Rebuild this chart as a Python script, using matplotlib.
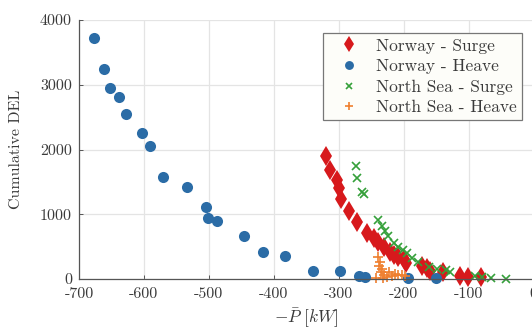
import matplotlib
matplotlib.use("Agg")
import matplotlib.pyplot as plt

# ---- data ----
norway_surge_x = [-319, -313.6, -302, -300, -296, -284, -271.8, -256.3, -245.5, -239, -230,
                  -221.7, -214.4, -208, -199, -197, -171, -164.5, -159, -140, -113, -101, -80.5]
norway_surge_y = [1898, 1682, 1528, 1400, 1230, 1049, 884, 715, 633, 576, 489,
                  422, 370, 335, 304, 252, 200, 165, 128, 108, 46, 35, 26]

norway_heave_x = [-677, -661.5, -653, -639, -628, -603.6, -591, -570.6, -533, -505, -501, -487,
                  -445.5, -417, -383, -339.5, -297.7, -268, -260, -193, -150.5]
norway_heave_y = [3715, 3236, 2952, 2813, 2551, 2258, 2048, 1579, 1415, 1106, 941, 890,
                  663, 417, 360, 123, 123, 51, 31, 11, 11]

northsea_surge_x = [-273, -272.4, -263.6, -261, -240, -233, -228, -224, -215, -208, -200.5,
                    -195, -186.5, -178, -161.7, -148.8, -134.9, -128, -89.5, -79, -64.7, -43]
northsea_surge_y = [1744, 1554, 1347, 1312, 910, 818, 746, 663, 551, 489, 447,
                    396, 319, 267, 190, 149, 139, 103, 46, 26, 11, 5]

northsea_heave_x = [-239, -236, -237.6, -233, -234.6, -230, -231.5, -222, -217.5, -213, -208,
                    -202, -197.5, -225, -242]
northsea_heave_y = [340, 262, 200, 154, 108, 62, 15, 108, 46, 77, 62,
                    62, 46, 30, 15]

xticks = [-700, -600, -500, -400, -300, -200, -100, 0]
xtick_labels = ["-700", "-600", "-500", "-400", "-300", "-200", "-100", "0"]
yticks = [0, 1000, 2000, 3000, 4000]
ytick_labels = ["0", "1000", "2000", "3000", "4000"]

labels = ["Norway - Surge", "Norway - Heave", "North Sea - Surge", "North Sea - Heave"]

# ---- style ----
plt.rcParams['font.family'] = 'serif'
plt.rcParams['font.serif'] = ['cmr10', 'DejaVu Serif']
plt.rcParams['mathtext.fontset'] = 'cm'
plt.rcParams['axes.unicode_minus'] = False

fig = plt.figure(figsize=(5.32, 3.29), dpi=100)
W, H = 532, 329
left, right, top, bottom = 79, 533.5, 20, 279
ax = fig.add_axes([left / W, (H - bottom) / H, (right - left) / W, (bottom - top) / H])

c_red = '#d7191c'
c_blue = '#2b6ca6'
c_green = '#35a03a'
c_orange = '#ef7f2f'

ax.plot(norway_surge_x, norway_surge_y, linestyle='none', marker='d', markersize=10,
        color=c_red, markeredgewidth=0, label=labels[0], clip_on=False)
ax.plot(norway_heave_x, norway_heave_y, linestyle='none', marker='o', markersize=8,
        color=c_blue, markeredgewidth=0, label=labels[1], clip_on=False)
ax.plot(northsea_surge_x, northsea_surge_y, linestyle='none', marker='x', markersize=5.5,
        color=c_green, markeredgewidth=1.2, label=labels[2], clip_on=False)
ax.plot(northsea_heave_x, northsea_heave_y, linestyle='none', marker='+', markersize=7,
        color=c_orange, markeredgewidth=1.2, label=labels[3], clip_on=False)

ax.set_xlim(-700, 0)
ax.set_ylim(0, 4000)
ax.set_xticks(xticks, xtick_labels)
ax.set_yticks(yticks, ytick_labels)

ax.grid(True, color='#e4e4e4', linewidth=0.9)
ax.set_axisbelow(True)
for s in ['top', 'right']:
    ax.spines[s].set_visible(False)
for s in ['left', 'bottom']:
    ax.spines[s].set_color('#555555')
    ax.spines[s].set_linewidth(0.9)

ax.tick_params(direction='in', length=3, width=0.7, color='#555555',
               labelsize=11.5, labelcolor='#3a3a3a')
ax.tick_params(axis='x', pad=6)
ax.tick_params(axis='y', pad=5)

ax.set_xlabel(r'$-\bar{P}\ [kW]$', fontsize=12.5, color='#3a3a3a', labelpad=4)
ax.set_ylabel('Cumulative DEL', fontsize=11.5, color='#3a3a3a', labelpad=12)

leg = ax.legend(loc='upper right', bbox_to_anchor=((522 - left) / (right - left), (bottom - 33) / (bottom - top)),
                fontsize=12.5, frameon=True, fancybox=False, framealpha=1, markerscale=0.8,
                handletextpad=0.36, borderpad=0.3, labelspacing=0.3, handlelength=2.4,
                borderaxespad=0)
leg.get_frame().set_edgecolor('#777777')
leg.get_frame().set_facecolor('#fdfdf9')
leg.get_frame().set_linewidth(0.9)
for t in leg.get_texts():
    t.set_color('#3a3a3a')

fig.savefig('out.png', dpi=100)
